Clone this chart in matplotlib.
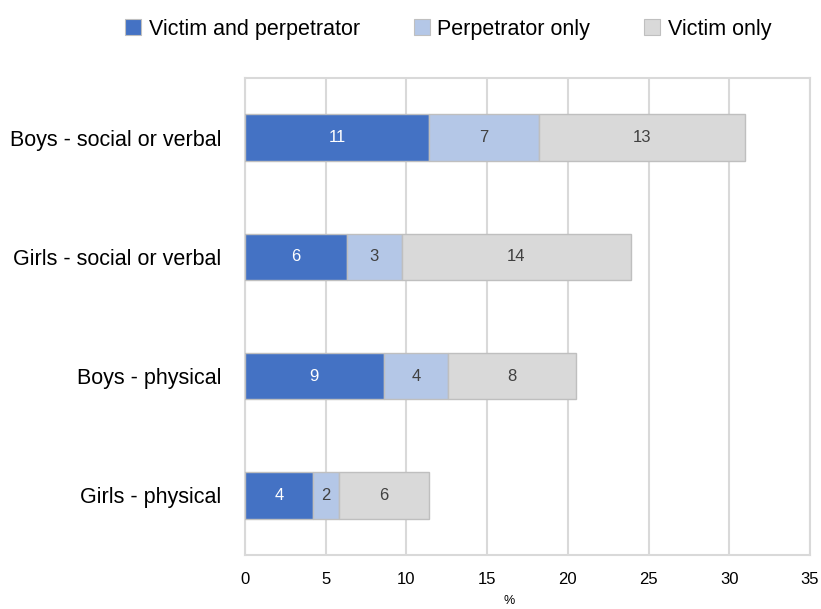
import matplotlib
matplotlib.use("Agg")
import matplotlib.pyplot as plt
from matplotlib.patches import Patch
import numpy as np

plt.rcParams['font.family'] = ['Liberation Sans Narrow', 'Liberation Sans', 'DejaVu Sans']

categories = ["Boys - social or verbal", "Girls - social or verbal",
              "Boys - physical", "Girls - physical"]
series_names = ["Victim and perpetrator", "Perpetrator only", "Victim only"]
victim_and_perpetrator = [11.4, 6.3, 8.6, 4.2]
perpetrator_only = [6.8, 3.4, 4.0, 1.6]
victim_only = [12.8, 14.2, 7.9, 5.6]
x_ticks = [0, 5, 10, 15, 20, 25, 30, 35]

colors = ["#4472C4", "#B4C7E7", "#D9D9D9"]
label_colors = ["white", "#404040", "#404040"]
grid_grey = "#D9D9D9"

fig = plt.figure(figsize=(8.21, 6.09), dpi=100)
ax = fig.add_axes([245 / 821, 1 - 555 / 609, (810 - 245) / 821, (555 - 78) / 609])

y = np.arange(len(categories))
left = np.zeros(len(categories))
for name, vals, col, lc in zip(series_names,
                               [victim_and_perpetrator, perpetrator_only, victim_only],
                               colors, label_colors):
    vals = np.array(vals)
    bars = ax.barh(y, vals, left=left, height=0.39, color=col,
                   edgecolor="#BFBFBF", linewidth=1.0, label=name, zorder=3)
    ax.bar_label(bars, labels=[f"{v:.0f}" for v in vals], label_type="center",
                 color=lc, fontsize=12)
    left += vals

ax.set_xlim(0, 35)
ax.set_ylim(3.5, -0.5)
ax.set_xticks(x_ticks)
ax.set_xticklabels([str(t) for t in x_ticks], fontsize=12)
ax.set_yticks(y)
ax.set_yticklabels(categories, fontsize=15.5)
ax.tick_params(axis="both", length=0, colors="#000000")
ax.tick_params(axis="y", pad=17)
ax.tick_params(axis="x", pad=12)
ax.xaxis.grid(True, color=grid_grey, linewidth=1.5, zorder=0)
ax.set_axisbelow(True)
for sp in ax.spines.values():
    sp.set_color(grid_grey)
    sp.set_linewidth(1.5)

fig.text(509 / 821, 1 - 601 / 609, "%", ha="center", va="center", fontsize=9)

handles = [Patch(facecolor=c, edgecolor="#BFBFBF", linewidth=0.8) for c in colors]
fig.legend(handles, series_names, loc="center", bbox_to_anchor=(448 / 821, 1 - 29 / 609),
           ncol=3, frameon=False, fontsize=15.5, handlelength=0.75, handleheight=0.75,
           handletextpad=0.35, columnspacing=2.5)

fig.savefig("out.png", dpi=100)
